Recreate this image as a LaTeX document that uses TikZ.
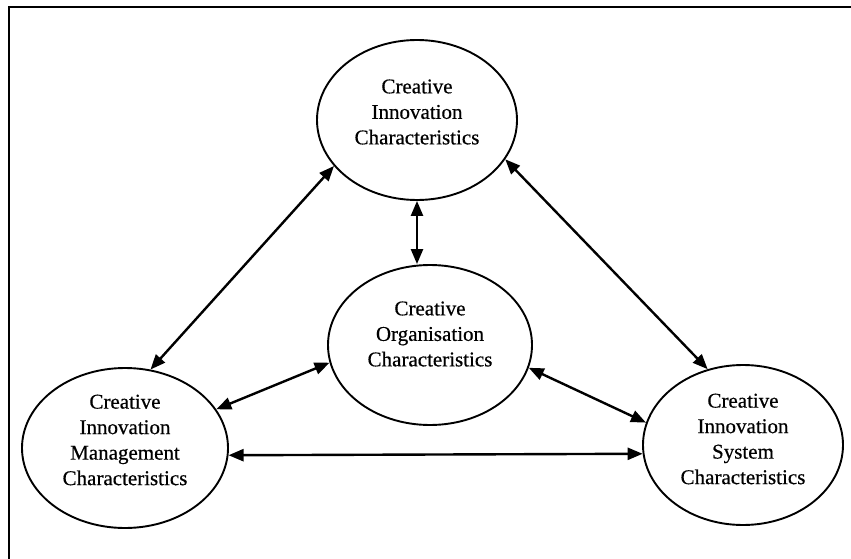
\documentclass[tikz,border=0pt]{standalone}
\usepackage{fontspec}
\setmainfont{Liberation Serif}
\newfontfamily\inkfont{Liberation Serif}[FakeBold=0.5]
\usetikzlibrary{shapes.geometric,arrows.meta}
\begin{document}
\begin{tikzpicture}[x=1pt,y=-1pt,
  blob/.style={ellipse, draw, line width=1.9pt, inner sep=0pt},
  caption/.style={align=center, inner sep=0pt,
    font=\inkfont\fontsize{21}{25.5}\selectfont},
  link/.style={line width=2.4pt,
    {Triangle[length=15pt,width=12pt]}-{Triangle[length=15pt,width=12pt]}}]
\useasboundingbox (0,0) rectangle (851,559);
% frame edges
\draw[line width=2.5pt] (9,559) -- (9,7) -- (851,7);
% the four characteristic groups
\node[blob, minimum width=200pt, minimum height=160pt] (T) at (417,120) {};
\node[blob, minimum width=204pt, minimum height=160pt] (C) at (430,345) {};
\node[blob, minimum width=206pt, minimum height=160pt] (L) at (125,448) {};
\node[blob, minimum width=200pt, minimum height=160pt] (R) at (743,445) {};
\node[caption] (Tt) at ([yshift=8pt]T.center) {Creative\\Innovation\\Characteristics};
\node[caption] (Ct) at ([yshift=11pt]C.center) {Creative\\Organisation\\Characteristics};
\node[caption] (Lt) at ([yshift=8pt]L.center) {Creative\\Innovation\\Management\\Characteristics};
\node[caption] (Rt) at ([yshift=6pt]R.center) {Creative\\Innovation\\System\\Characteristics};
% two-way links
\draw[link] (T.south) -- (T.south |- C.north);
\draw[link] (T.209) -- (L.72);
\draw[link] (T.336) -- (R.115);
\draw[link] (C.190) -- (L.23);
\draw[link] (C.347) -- (R.167);
\draw[link] (L.356) -- (R.185);
\end{tikzpicture}
\end{document}
